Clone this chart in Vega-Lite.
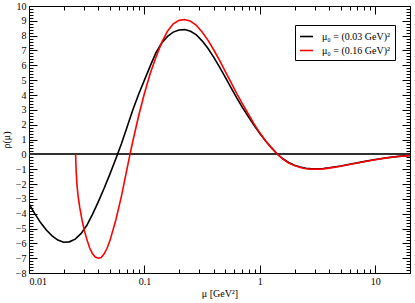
{
  "$schema": "https://vega.github.io/schema/vega-lite/v6.json",
  "width": 381,
  "height": 267,
  "autosize": "none",
  "padding": {"left": 29, "top": 6, "right": 5, "bottom": 30},
  "background": "white",
  "config": {
    "view": {"stroke": "#000000", "strokeWidth": 1},
    "font": "Liberation Serif",
    "axis": {"domain": false, "grid": false, "labelFont": "Liberation Serif", "titleFont": "Liberation Serif", "labelColor": "#000", "titleColor": "#000", "tickColor": "#000", "labelFontSize": 10, "titleFontSize": 10, "titleFontWeight": "normal", "labelOverlap": false}
  },
  "data": {"values": [
    {"mu": 0.01, "rho": -3.35, "series": "μ₀ = (0.03 GeV)²"},
    {"mu": 0.01122, "rho": -4.0, "series": "μ₀ = (0.03 GeV)²"},
    {"mu": 0.01259, "rho": -4.6, "series": "μ₀ = (0.03 GeV)²"},
    {"mu": 0.01413, "rho": -5.1, "series": "μ₀ = (0.03 GeV)²"},
    {"mu": 0.01585, "rho": -5.5, "series": "μ₀ = (0.03 GeV)²"},
    {"mu": 0.01778, "rho": -5.78, "series": "μ₀ = (0.03 GeV)²"},
    {"mu": 0.01995, "rho": -5.93, "series": "μ₀ = (0.03 GeV)²"},
    {"mu": 0.02239, "rho": -5.9, "series": "μ₀ = (0.03 GeV)²"},
    {"mu": 0.02512, "rho": -5.72, "series": "μ₀ = (0.03 GeV)²"},
    {"mu": 0.02818, "rho": -5.35, "series": "μ₀ = (0.03 GeV)²"},
    {"mu": 0.03162, "rho": -4.8, "series": "μ₀ = (0.03 GeV)²"},
    {"mu": 0.03548, "rho": -4.05, "series": "μ₀ = (0.03 GeV)²"},
    {"mu": 0.03981, "rho": -3.2, "series": "μ₀ = (0.03 GeV)²"},
    {"mu": 0.04467, "rho": -2.3, "series": "μ₀ = (0.03 GeV)²"},
    {"mu": 0.05012, "rho": -1.35, "series": "μ₀ = (0.03 GeV)²"},
    {"mu": 0.05623, "rho": -0.35, "series": "μ₀ = (0.03 GeV)²"},
    {"mu": 0.0631, "rho": 0.7, "series": "μ₀ = (0.03 GeV)²"},
    {"mu": 0.07079, "rho": 1.85, "series": "μ₀ = (0.03 GeV)²"},
    {"mu": 0.07943, "rho": 3.0, "series": "μ₀ = (0.03 GeV)²"},
    {"mu": 0.08913, "rho": 4.05, "series": "μ₀ = (0.03 GeV)²"},
    {"mu": 0.1, "rho": 5.0, "series": "μ₀ = (0.03 GeV)²"},
    {"mu": 0.1122, "rho": 5.95, "series": "μ₀ = (0.03 GeV)²"},
    {"mu": 0.1259, "rho": 6.85, "series": "μ₀ = (0.03 GeV)²"},
    {"mu": 0.1413, "rho": 7.5, "series": "μ₀ = (0.03 GeV)²"},
    {"mu": 0.1585, "rho": 7.95, "series": "μ₀ = (0.03 GeV)²"},
    {"mu": 0.1778, "rho": 8.24, "series": "μ₀ = (0.03 GeV)²"},
    {"mu": 0.1995, "rho": 8.38, "series": "μ₀ = (0.03 GeV)²"},
    {"mu": 0.2239, "rho": 8.41, "series": "μ₀ = (0.03 GeV)²"},
    {"mu": 0.2512, "rho": 8.3, "series": "μ₀ = (0.03 GeV)²"},
    {"mu": 0.2818, "rho": 8.05, "series": "μ₀ = (0.03 GeV)²"},
    {"mu": 0.3162, "rho": 7.65, "series": "μ₀ = (0.03 GeV)²"},
    {"mu": 0.3548, "rho": 7.15, "series": "μ₀ = (0.03 GeV)²"},
    {"mu": 0.3981, "rho": 6.55, "series": "μ₀ = (0.03 GeV)²"},
    {"mu": 0.4467, "rho": 5.9, "series": "μ₀ = (0.03 GeV)²"},
    {"mu": 0.5012, "rho": 5.2, "series": "μ₀ = (0.03 GeV)²"},
    {"mu": 0.5623, "rho": 4.5, "series": "μ₀ = (0.03 GeV)²"},
    {"mu": 0.631, "rho": 3.8, "series": "μ₀ = (0.03 GeV)²"},
    {"mu": 0.7079, "rho": 3.15, "series": "μ₀ = (0.03 GeV)²"},
    {"mu": 0.7943, "rho": 2.55, "series": "μ₀ = (0.03 GeV)²"},
    {"mu": 0.8913, "rho": 1.95, "series": "μ₀ = (0.03 GeV)²"},
    {"mu": 1.0, "rho": 1.4, "series": "μ₀ = (0.03 GeV)²"},
    {"mu": 1.122, "rho": 0.9, "series": "μ₀ = (0.03 GeV)²"},
    {"mu": 1.259, "rho": 0.45, "series": "μ₀ = (0.03 GeV)²"},
    {"mu": 1.413, "rho": 0.02, "series": "μ₀ = (0.03 GeV)²"},
    {"mu": 1.585, "rho": -0.3, "series": "μ₀ = (0.03 GeV)²"},
    {"mu": 1.778, "rho": -0.55, "series": "μ₀ = (0.03 GeV)²"},
    {"mu": 1.995, "rho": -0.73, "series": "μ₀ = (0.03 GeV)²"},
    {"mu": 2.239, "rho": -0.86, "series": "μ₀ = (0.03 GeV)²"},
    {"mu": 2.512, "rho": -0.94, "series": "μ₀ = (0.03 GeV)²"},
    {"mu": 2.818, "rho": -0.98, "series": "μ₀ = (0.03 GeV)²"},
    {"mu": 3.162, "rho": -0.98, "series": "μ₀ = (0.03 GeV)²"},
    {"mu": 3.548, "rho": -0.96, "series": "μ₀ = (0.03 GeV)²"},
    {"mu": 3.981, "rho": -0.91, "series": "μ₀ = (0.03 GeV)²"},
    {"mu": 5.012, "rho": -0.79, "series": "μ₀ = (0.03 GeV)²"},
    {"mu": 6.31, "rho": -0.64, "series": "μ₀ = (0.03 GeV)²"},
    {"mu": 7.943, "rho": -0.49, "series": "μ₀ = (0.03 GeV)²"},
    {"mu": 10.0, "rho": -0.35, "series": "μ₀ = (0.03 GeV)²"},
    {"mu": 12.59, "rho": -0.23, "series": "μ₀ = (0.03 GeV)²"},
    {"mu": 15.85, "rho": -0.14, "series": "μ₀ = (0.03 GeV)²"},
    {"mu": 20.0, "rho": -0.08, "series": "μ₀ = (0.03 GeV)²"},
    {"mu": 0.02535, "rho": 0.0, "series": "μ₀ = (0.16 GeV)²"},
    {"mu": 0.02547, "rho": -0.6, "series": "μ₀ = (0.16 GeV)²"},
    {"mu": 0.0257, "rho": -1.3, "series": "μ₀ = (0.16 GeV)²"},
    {"mu": 0.026, "rho": -2.0, "series": "μ₀ = (0.16 GeV)²"},
    {"mu": 0.02661, "rho": -2.8, "series": "μ₀ = (0.16 GeV)²"},
    {"mu": 0.02754, "rho": -3.6, "series": "μ₀ = (0.16 GeV)²"},
    {"mu": 0.02884, "rho": -4.45, "series": "μ₀ = (0.16 GeV)²"},
    {"mu": 0.0302, "rho": -5.15, "series": "μ₀ = (0.16 GeV)²"},
    {"mu": 0.03162, "rho": -5.7, "series": "μ₀ = (0.16 GeV)²"},
    {"mu": 0.0335, "rho": -6.3, "series": "μ₀ = (0.16 GeV)²"},
    {"mu": 0.03548, "rho": -6.7, "series": "μ₀ = (0.16 GeV)²"},
    {"mu": 0.03758, "rho": -6.92, "series": "μ₀ = (0.16 GeV)²"},
    {"mu": 0.03981, "rho": -7.0, "series": "μ₀ = (0.16 GeV)²"},
    {"mu": 0.04217, "rho": -6.95, "series": "μ₀ = (0.16 GeV)²"},
    {"mu": 0.04467, "rho": -6.72, "series": "μ₀ = (0.16 GeV)²"},
    {"mu": 0.04732, "rho": -6.35, "series": "μ₀ = (0.16 GeV)²"},
    {"mu": 0.05012, "rho": -5.85, "series": "μ₀ = (0.16 GeV)²"},
    {"mu": 0.05623, "rho": -4.5, "series": "μ₀ = (0.16 GeV)²"},
    {"mu": 0.0631, "rho": -2.85, "series": "μ₀ = (0.16 GeV)²"},
    {"mu": 0.07079, "rho": -0.95, "series": "μ₀ = (0.16 GeV)²"},
    {"mu": 0.07499, "rho": 0.0, "series": "μ₀ = (0.16 GeV)²"},
    {"mu": 0.07943, "rho": 0.9, "series": "μ₀ = (0.16 GeV)²"},
    {"mu": 0.08913, "rho": 2.6, "series": "μ₀ = (0.16 GeV)²"},
    {"mu": 0.1, "rho": 4.1, "series": "μ₀ = (0.16 GeV)²"},
    {"mu": 0.1122, "rho": 5.45, "series": "μ₀ = (0.16 GeV)²"},
    {"mu": 0.1259, "rho": 6.55, "series": "μ₀ = (0.16 GeV)²"},
    {"mu": 0.1413, "rho": 7.55, "series": "μ₀ = (0.16 GeV)²"},
    {"mu": 0.1585, "rho": 8.3, "series": "μ₀ = (0.16 GeV)²"},
    {"mu": 0.1778, "rho": 8.8, "series": "μ₀ = (0.16 GeV)²"},
    {"mu": 0.1995, "rho": 9.03, "series": "μ₀ = (0.16 GeV)²"},
    {"mu": 0.2239, "rho": 9.09, "series": "μ₀ = (0.16 GeV)²"},
    {"mu": 0.2512, "rho": 8.98, "series": "μ₀ = (0.16 GeV)²"},
    {"mu": 0.2818, "rho": 8.7, "series": "μ₀ = (0.16 GeV)²"},
    {"mu": 0.3162, "rho": 8.25, "series": "μ₀ = (0.16 GeV)²"},
    {"mu": 0.3548, "rho": 7.7, "series": "μ₀ = (0.16 GeV)²"},
    {"mu": 0.3981, "rho": 7.05, "series": "μ₀ = (0.16 GeV)²"},
    {"mu": 0.4467, "rho": 6.35, "series": "μ₀ = (0.16 GeV)²"},
    {"mu": 0.5012, "rho": 5.6, "series": "μ₀ = (0.16 GeV)²"},
    {"mu": 0.5623, "rho": 4.85, "series": "μ₀ = (0.16 GeV)²"},
    {"mu": 0.631, "rho": 4.1, "series": "μ₀ = (0.16 GeV)²"},
    {"mu": 0.7079, "rho": 3.4, "series": "μ₀ = (0.16 GeV)²"},
    {"mu": 0.7943, "rho": 2.72, "series": "μ₀ = (0.16 GeV)²"},
    {"mu": 0.8913, "rho": 2.05, "series": "μ₀ = (0.16 GeV)²"},
    {"mu": 1.0, "rho": 1.45, "series": "μ₀ = (0.16 GeV)²"},
    {"mu": 1.122, "rho": 0.92, "series": "μ₀ = (0.16 GeV)²"},
    {"mu": 1.259, "rho": 0.45, "series": "μ₀ = (0.16 GeV)²"},
    {"mu": 1.413, "rho": 0.02, "series": "μ₀ = (0.16 GeV)²"},
    {"mu": 1.585, "rho": -0.32, "series": "μ₀ = (0.16 GeV)²"},
    {"mu": 1.778, "rho": -0.58, "series": "μ₀ = (0.16 GeV)²"},
    {"mu": 1.995, "rho": -0.76, "series": "μ₀ = (0.16 GeV)²"},
    {"mu": 2.239, "rho": -0.89, "series": "μ₀ = (0.16 GeV)²"},
    {"mu": 2.512, "rho": -0.97, "series": "μ₀ = (0.16 GeV)²"},
    {"mu": 2.818, "rho": -1.0, "series": "μ₀ = (0.16 GeV)²"},
    {"mu": 3.162, "rho": -1.0, "series": "μ₀ = (0.16 GeV)²"},
    {"mu": 3.548, "rho": -0.98, "series": "μ₀ = (0.16 GeV)²"},
    {"mu": 3.981, "rho": -0.93, "series": "μ₀ = (0.16 GeV)²"},
    {"mu": 5.012, "rho": -0.8, "series": "μ₀ = (0.16 GeV)²"},
    {"mu": 6.31, "rho": -0.65, "series": "μ₀ = (0.16 GeV)²"},
    {"mu": 7.943, "rho": -0.5, "series": "μ₀ = (0.16 GeV)²"},
    {"mu": 10.0, "rho": -0.36, "series": "μ₀ = (0.16 GeV)²"},
    {"mu": 12.59, "rho": -0.24, "series": "μ₀ = (0.16 GeV)²"},
    {"mu": 15.85, "rho": -0.15, "series": "μ₀ = (0.16 GeV)²"},
    {"mu": 20.0, "rho": -0.09, "series": "μ₀ = (0.16 GeV)²"}
  ]},
  "layer": [
    {
      "mark": {"type": "rule", "color": "#333333", "strokeWidth": 1.2},
      "encoding": {"y": {"datum": 0, "type": "quantitative", "scale": {"domain": [-8, 10], "nice": false, "zero": false}, "axis": null}}
    },
    {
      "mark": {"type": "line", "strokeWidth": 1.6, "clip": true},
      "encoding": {
        "x": {"field": "mu", "type": "quantitative", "scale": {"type": "log", "domain": [0.01, 20], "nice": false},
              "axis": {"orient": "bottom", "values": [0.01, 0.1, 1, 10], "ticks": false, "labelPadding": 3, "labelFlush": true, "format": "~g", "title": "μ [GeV²]", "titleX": 190.5, "titleY": 20, "titleBaseline": "middle", "titleAlign": "center"}},
        "y": {"field": "rho", "type": "quantitative", "scale": {"domain": [-8, 10], "nice": false, "zero": false},
              "axis": {"orient": "left", "values": [-8,-7,-6,-5,-4,-3,-2,-1,0,1,2,3,4,5,6,7,8,9,10], "ticks": false, "labelPadding": 3, "labelFlush": false, "title": "ρ(μ)", "titleX": -23, "titleY": 133.5, "titleAngle": -90, "titleBaseline": "middle", "titleAlign": "center"}},
        "color": {"field": "series", "type": "nominal",
                  "scale": {"domain": ["μ₀ = (0.03 GeV)²", "μ₀ = (0.16 GeV)²"], "range": ["#000000", "#ff0000"]},
                  "legend": {"title": null, "orient": "none", "legendX": 266, "legendY": 19, "strokeColor": "#000000", "padding": 4, "symbolType": "stroke", "symbolSize": 169, "symbolStrokeWidth": 1.6, "labelFont": "Liberation Serif", "labelFontSize": 10, "labelColor": "#000", "labelOffset": 8, "rowPadding": 1, "fillColor": "white"}}
      }
    },
    {
      "mark": {"type": "point", "opacity": 0, "size": 0},
      "encoding": {
        "x": {"field": "mu", "type": "quantitative", "scale": {"type": "log", "domain": [0.01, 20], "nice": false},
              "axis": {"orient": "bottom", "values": [0.01, 0.1, 1, 10], "labels": false, "tickSize": -8, "title": null}},
        "y": {"field": "rho", "type": "quantitative", "scale": {"domain": [-8, 10], "nice": false, "zero": false},
              "axis": {"orient": "left", "values": [-8,-7,-6,-5,-4,-3,-2,-1,0,1,2,3,4,5,6,7,8,9,10], "labels": false, "tickSize": -8, "title": null}}
      }
    },
    {
      "mark": {"type": "point", "opacity": 0, "size": 0},
      "encoding": {
        "x": {"field": "mu", "type": "quantitative", "scale": {"type": "log", "domain": [0.01, 20], "nice": false},
              "axis": {"orient": "bottom", "values": [0.02,0.03,0.04,0.05,0.06,0.07,0.08,0.09,0.2,0.3,0.4,0.5,0.6,0.7,0.8,0.9,2,3,4,5,6,7,8,9], "labels": false, "tickSize": -4, "title": null}},
        "y": {"field": "rho", "type": "quantitative", "scale": {"domain": [-8, 10], "nice": false, "zero": false},
              "axis": {"orient": "left", "tickCount": 90, "labels": false, "tickSize": -4, "title": null}}
      }
    },
    {
      "mark": {"type": "point", "opacity": 0, "size": 0},
      "encoding": {
        "x": {"field": "mu", "type": "quantitative", "scale": {"type": "log", "domain": [0.01, 20], "nice": false},
              "axis": {"orient": "top", "values": [0.01, 0.1, 1, 10], "labels": false, "tickSize": -8, "title": null}},
        "y": {"field": "rho", "type": "quantitative", "scale": {"domain": [-8, 10], "nice": false, "zero": false},
              "axis": {"orient": "right", "values": [-8,-7,-6,-5,-4,-3,-2,-1,0,1,2,3,4,5,6,7,8,9,10], "labels": false, "tickSize": -8, "title": null}}
      }
    },
    {
      "mark": {"type": "point", "opacity": 0, "size": 0},
      "encoding": {
        "x": {"field": "mu", "type": "quantitative", "scale": {"type": "log", "domain": [0.01, 20], "nice": false},
              "axis": {"orient": "top", "values": [0.02,0.03,0.04,0.05,0.06,0.07,0.08,0.09,0.2,0.3,0.4,0.5,0.6,0.7,0.8,0.9,2,3,4,5,6,7,8,9], "labels": false, "tickSize": -4, "title": null}},
        "y": {"field": "rho", "type": "quantitative", "scale": {"domain": [-8, 10], "nice": false, "zero": false},
              "axis": {"orient": "right", "tickCount": 90, "labels": false, "tickSize": -4, "title": null}}
      }
    }
  ],
  "resolve": {"axis": {"x": "independent", "y": "independent"}}
}
